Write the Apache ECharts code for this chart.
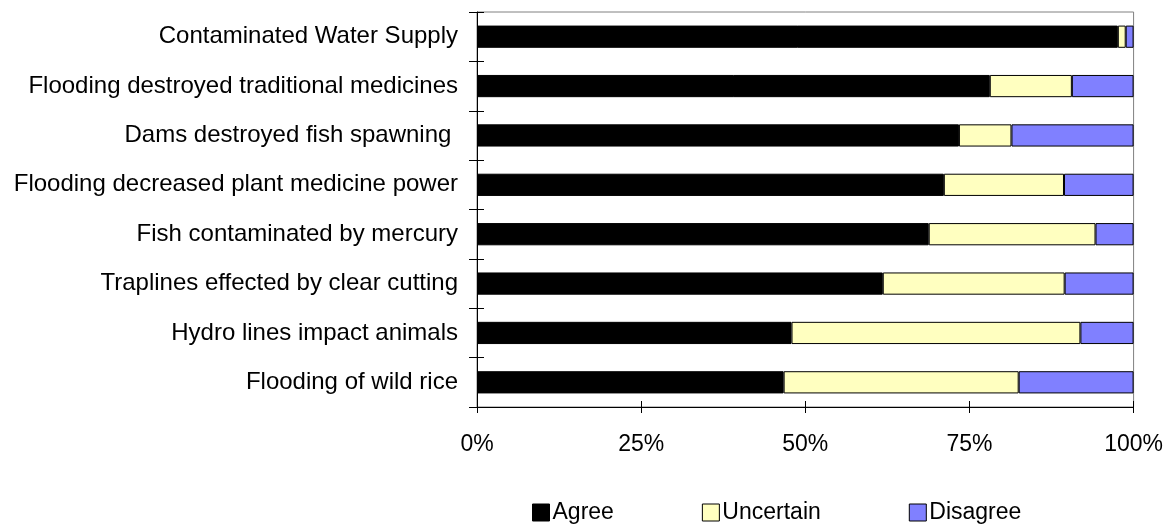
<!DOCTYPE html>
<html>
<head>
<meta charset="utf-8">
<script src="https://cdn.jsdelivr.net/npm/echarts@6/dist/echarts.min.js"></script>
<style>
  html, body { margin: 0; padding: 0; background: #fff; }
  #chart { width: 1166px; height: 524px; }
</style>
</head>
<body>
<div id="chart"></div>
<script>
// Survey statements, listed top to bottom
const categories = [
  'Contaminated Water Supply',
  'Flooding destroyed traditional medicines',
  'Dams destroyed fish spawning ',
  'Flooding decreased plant medicine power',
  'Fish contaminated by mercury',
  'Traplines effected by clear cutting',
  'Hydro lines impact animals',
  'Flooding of wild rice'
];

// Share of responses (%) per statement
const agree     = [97.6, 78.1, 73.4, 71.1, 68.8, 61.8, 47.9, 46.7];
const uncertain = [ 1.2, 12.5,  8.0, 18.3, 25.4, 27.7, 44.0, 35.8];
const disagree  = [ 1.2,  9.4, 18.6, 10.6,  5.8, 10.5,  8.1, 17.5];

const xTicks = [0, 25, 50, 75, 100];

const FONT = '"Liberation Sans", Arial, sans-serif';
const chart = echarts.init(document.getElementById('chart'));

function seriesOf(name, values, color) {
  return {
    name: name,
    type: 'bar',
    stack: 'total',
    data: values,
    barWidth: '45%',
    itemStyle: { color: color, borderColor: '#000', borderWidth: 1 },
    emphasis: { disabled: true }
  };
}

chart.setOption({
  animation: false,
  textStyle: { fontFamily: FONT, color: '#000' },
  grid: {
    left: 477, right: 32, top: 12, bottom: 117,
    show: true, borderColor: '#808080', borderWidth: 1
  },
  legend: {
    top: 501,
    left: 532,
    padding: 0,
    itemGap: 88,
    itemWidth: 17,
    itemHeight: 17,
    icon: 'rect',
    textStyle: { fontFamily: FONT, fontSize: 23, color: '#000', padding: [0, 0, 0, -2] },
    itemStyle: { borderColor: '#000', borderWidth: 1 },
    data: ['Agree', 'Uncertain', 'Disagree']
  },
  xAxis: [{
    type: 'value',
    min: xTicks[0],
    max: xTicks[xTicks.length - 1],
    interval: xTicks[1] - xTicks[0],
    axisLine: { show: true, lineStyle: { color: '#000', width: 1 } },
    axisTick: { show: true, length: 6, lineStyle: { color: '#000' } },
    splitLine: { show: false },
    axisLabel: {
      margin: 26, fontSize: 23, color: '#000', fontFamily: FONT,
      formatter: '{value}%'
    }
  }, {
    type: 'value',
    position: 'bottom',
    min: xTicks[0],
    max: xTicks[xTicks.length - 1],
    interval: xTicks[1] - xTicks[0],
    axisLine: { show: false },
    axisTick: { show: true, inside: true, length: 6, lineStyle: { color: '#000' } },
    splitLine: { show: false },
    axisLabel: { show: false }
  }],
  yAxis: [{
    type: 'category',
    inverse: true,
    data: categories,
    axisLine: { show: true, lineStyle: { color: '#000', width: 1 } },
    axisTick: { show: true, length: 8, lineStyle: { color: '#000' } },
    axisLabel: { margin: 19, fontSize: 24, color: '#000', fontFamily: FONT }
  }, {
    type: 'category',
    position: 'left',
    inverse: true,
    data: categories,
    axisLine: { show: false },
    axisTick: { show: true, inside: true, length: 7, lineStyle: { color: '#000' } },
    axisLabel: { show: false }
  }],
  series: [
    seriesOf('Agree', agree, '#000000'),
    seriesOf('Uncertain', uncertain, '#FFFFC0'),
    seriesOf('Disagree', disagree, '#8080FF')
  ]
});
</script>
</body>
</html>
